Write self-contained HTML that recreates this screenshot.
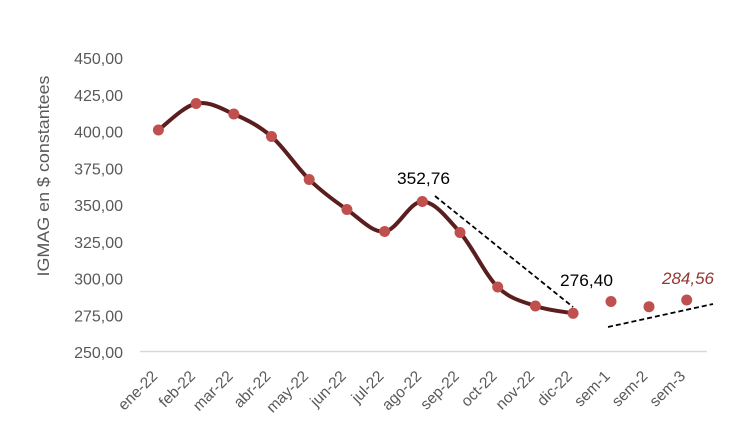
<!DOCTYPE html>
<html><head><meta charset="utf-8"><style>
html,body{margin:0;padding:0;background:#fff;}
svg{display:block;}
text{font-family:"Liberation Sans",Arial,sans-serif;}
</style></head><body>
<svg width="738" height="437" viewBox="0 0 738 437" xmlns="http://www.w3.org/2000/svg">
<rect width="738" height="437" fill="#fff"/>
<!-- axis title -->
<text transform="translate(49,176) rotate(-90)" text-anchor="middle" font-size="17" fill="#595959" textLength="201" lengthAdjust="spacingAndGlyphs">IGMAG en $ constantees</text>
<!-- y tick labels -->
<g font-size="16" fill="#595959" text-anchor="end">
<text x="123" y="64">450,00</text>
<text x="123" y="100.8">425,00</text>
<text x="123" y="137.5">400,00</text>
<text x="123" y="174.3">375,00</text>
<text x="123" y="211">350,00</text>
<text x="123" y="247.8">325,00</text>
<text x="123" y="284.5">300,00</text>
<text x="123" y="321.3">275,00</text>
<text x="123" y="358">250,00</text>
</g>
<!-- x axis -->
<line x1="140" y1="351.5" x2="707" y2="351.5" stroke="#d9d9d9" stroke-width="1.5"/>
<!-- x labels -->
<g font-size="15.5" fill="#595959" text-anchor="end">
<text transform="translate(158.4,377) rotate(-45)">ene-22</text>
<text transform="translate(196.1,377) rotate(-45)">feb-22</text>
<text transform="translate(233.8,377) rotate(-45)">mar-22</text>
<text transform="translate(271.5,377) rotate(-45)">abr-22</text>
<text transform="translate(309.2,377) rotate(-45)">may-22</text>
<text transform="translate(346.9,377) rotate(-45)">jun-22</text>
<text transform="translate(384.6,377) rotate(-45)">jul-22</text>
<text transform="translate(422.3,377) rotate(-45)">ago-22</text>
<text transform="translate(460,377) rotate(-45)">sep-22</text>
<text transform="translate(497.7,377) rotate(-45)">oct-22</text>
<text transform="translate(535.4,377) rotate(-45)">nov-22</text>
<text transform="translate(573.1,377) rotate(-45)">dic-22</text>
<text transform="translate(610.8,377) rotate(-45)">sem-1</text>
<text transform="translate(648.5,377) rotate(-45)">sem-2</text>
<text transform="translate(686.2,377) rotate(-45)">sem-3</text>
</g>
<!-- smooth line -->
<path d="M158.4,130 C164.68,125.58 183.53,106.17 196.1,103.5 C208.67,100.83 221.23,108.5 233.8,114 C246.37,119.5 258.93,125.58 271.5,136.5 C284.07,147.42 296.63,167.33 309.2,179.5 C321.77,191.67 334.33,200.83 346.9,209.5 C359.47,218.17 372.03,232.83 384.6,231.5 C397.17,230.17 409.73,201.33 422.3,201.5 C434.87,201.67 447.43,218.25 460,232.5 C472.57,246.75 485.13,274.75 497.7,287 C510.27,299.25 522.83,301.62 535.4,306 C547.97,310.38 566.82,312.08 573.1,313.3" fill="none" stroke="#5a1e1e" stroke-width="4" stroke-linecap="round" stroke-linejoin="round"/>
<!-- dashed trend lines -->
<line x1="435" y1="196" x2="573" y2="307" stroke="#000" stroke-width="1.8" stroke-dasharray="5,3"/>
<line x1="608" y1="327" x2="713" y2="304" stroke="#000" stroke-width="1.8" stroke-dasharray="5,3"/>
<!-- markers -->
<g fill="#c0504d">
<circle cx="158.4" cy="130" r="5.5"/>
<circle cx="196.1" cy="103.5" r="5.5"/>
<circle cx="233.8" cy="114" r="5.5"/>
<circle cx="271.5" cy="136.5" r="5.5"/>
<circle cx="309.2" cy="179.5" r="5.5"/>
<circle cx="346.9" cy="209.5" r="5.5"/>
<circle cx="384.6" cy="231.5" r="5.5"/>
<circle cx="422.3" cy="201.5" r="5.5"/>
<circle cx="460" cy="232.5" r="5.5"/>
<circle cx="497.7" cy="287" r="5.5"/>
<circle cx="535.4" cy="306" r="5.5"/>
<circle cx="573.1" cy="313.3" r="5.5"/>
<circle cx="611" cy="301.5" r="5.5"/>
<circle cx="649" cy="306.7" r="5.5"/>
<circle cx="686.7" cy="300" r="5.5"/>
</g>
<!-- data labels -->
<text x="397" y="184" font-size="17" fill="#000" textLength="53" lengthAdjust="spacingAndGlyphs">352,76</text>
<text x="560" y="286" font-size="17" fill="#000" textLength="53" lengthAdjust="spacingAndGlyphs">276,40</text>
<text x="662" y="284" font-size="17" font-style="italic" fill="#953735" textLength="52" lengthAdjust="spacingAndGlyphs">284,56</text>
</svg>
</body></html>
